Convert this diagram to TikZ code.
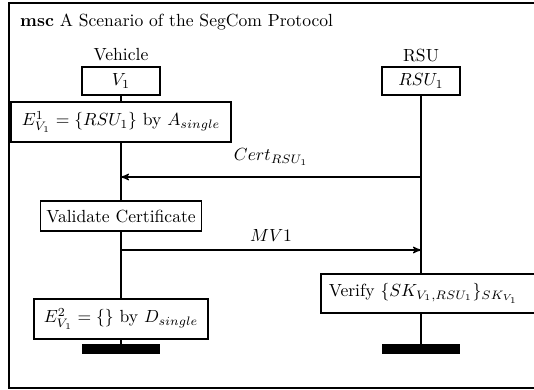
\documentclass[tikz,border=0pt]{standalone}
\usepackage{tikz}
\usetikzlibrary{shapes,arrows,calc}
\tikzstyle{line} = [draw, -stealth', line width=0.7pt]
\tikzstyle{life} = [draw, line width=1.1pt]
\tikzstyle{action} = [draw, rectangle, text centered, line width=0.9pt, fill=white]
\tikzstyle{instance} = [draw, rectangle, text centered, minimum width=1.56cm, minimum height=0.56cm, line width=0.9pt]
\tikzstyle{endbar} = [fill=black, rectangle, minimum width=1.56cm, minimum height=0.2cm, inner sep=0pt]

\begin{document}
\begin{tikzpicture}[node distance=1.5cm, auto]
        \useasboundingbox (0,0) rectangle (10.68,-7.78);
        \draw[line width=1.1pt] (0.18,-0.06) rectangle (10.95,-7.76);
        \node[anchor=west] (title) at (0.28,-0.44) {\textbf{msc} A Scenario of the SegCom Protocol};
        \node[instance] (v1) at (2.42,-1.62) {$V_1$};
        \node[above of=v1, node distance=0.52cm] (vehicle) {Vehicle};
        \node[instance] (rsu1) at (8.42,-1.62) {$RSU_1$};
        \node[above of=rsu1, node distance=0.52cm] (rsu) {RSU};
        \node[action, below of=v1, node distance=0.82cm, minimum width=4.4cm, minimum height=0.8cm] (e1) {$E^1_{V_1} = \{RSU_1\}$ by $A_{single}$};
        \node[action, below of=e1, node distance=1.88cm, minimum height=0.6cm] (validate) {Validate Certificate};
        \node[action, below of=validate, node distance=2.06cm, minimum width=3.48cm, minimum height=0.8cm] (e2) {$E^2_{V_1} = \{\}$ by $D_{single}$};
        \node[endbar, below of=e2, node distance=0.6cm] (vbar) {};
        \node[action, anchor=west, text width=4.3cm, align=left, inner sep=0.16cm, minimum height=0.78cm] (verify) at (6.4,-5.87) {Verify $\{SK_{V_1,RSU_1}\}_{SK_{V_1}}$};
        \node[endbar] (rbar) at (8.42,-6.98) {};
        \coordinate (certR) at (8.42,-3.54);
        \coordinate (certV) at (2.42,-3.54);
        \coordinate (mvV) at (2.42,-5.0);
        \coordinate (mvR) at (8.42,-5.0);
        % lifelines
        \path[life] (v1) -- (e1);
        \path[life] (e1) -- (validate);
        \path[life] (validate) -- (e2);
        \path[life] (e2) -- (vbar);
        \path[life] (rsu1) -- (rsu1 |- verify.north);
        \path[life] (rsu1 |- verify.south) -- (rbar);
        % messages
        \path[line] (certR) -- node[above=3pt] {$Cert_{RSU_1}$} (certV);
        \path[line] (mvV) -- node[above=1pt] {$MV1$} (mvR);
    \end{tikzpicture}
\end{document}
